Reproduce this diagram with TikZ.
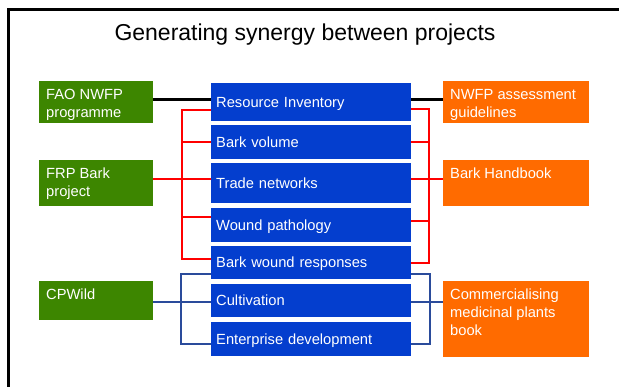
\documentclass[tikz,border=0pt]{standalone}
\usepackage{fontspec}
\setmainfont{Liberation Sans}
\definecolor{topicblue}{RGB}{4,62,206}
\definecolor{projgreen}{RGB}{61,134,0}
\definecolor{outorange}{RGB}{255,107,0}
\definecolor{linkred}{RGB}{255,0,0}
\definecolor{linknavy}{RGB}{42,75,155}
\newcommand{\boxtext}[1]{\parbox[t]{140pt}{\raggedright #1}}
\begin{document}
\begin{tikzpicture}[x=1pt,y=-1pt,
  boxfont/.style={font=\fontsize{14.7}{18}\selectfont},
  topic/.style={boxfont, fill=topicblue, text=white, anchor=north west,
    minimum width=200pt, text width=190pt, inner xsep=5pt, inner ysep=0pt,
    text height=10.5pt, text depth=0pt, align=left},
  project/.style={fill=projgreen, anchor=north west, minimum width=114pt, inner sep=0pt},
  output/.style={fill=outorange, anchor=north west, minimum width=146pt, inner sep=0pt},
  boxlabel/.style={boxfont, text=white, anchor=base west, inner sep=0pt},
  blackline/.style={draw=black, line width=2.6pt},
  redline/.style={draw=linkred, line width=2pt, line join=miter},
  navyline/.style={draw=linknavy, line width=2pt, line join=miter}]
\useasboundingbox (0,0) rectangle (619,387);
\fill[white] (0,0) rectangle (619,387);

% outer frame (open to the right and bottom)
\draw[line width=2.6pt] (8.5,387) |- (619,9.5);

% title
\node[font=\fontsize{23}{27}\selectfont, anchor=center] (title) at (305,35) {Generating synergy between projects};

% central column of research topics
\node[topic, minimum height=38pt] (ri)   at (211,83)  {Resource Inventory};
\node[topic, minimum height=34pt] (bv)   at (211,125) {Bark volume};
\node[topic, minimum height=40pt] (tn)   at (211,163) {Trade networks};
\node[topic, minimum height=34pt] (wp)   at (211,208) {Wound pathology};
\node[topic, minimum height=33pt] (bwr)  at (211,246) {Bark wound responses};
\node[topic, minimum height=33pt] (cult) at (211,284) {Cultivation};
\node[topic, minimum height=34pt] (ent)  at (211,322) {Enterprise development};

% projects on the left
\node[project, minimum height=42pt] (fao) at (39,81)  {};
\node[project, minimum height=46pt] (frp) at (39,160) {};
\node[project, minimum height=39pt] (cpw) at (39,281) {};
\node[boxlabel] (faoT) at ([xshift=7pt,yshift=-18.5pt]fao.north west) {\boxtext{FAO NWFP\\programme}};
\node[boxlabel] (frpT) at ([xshift=7pt,yshift=-18.5pt]frp.north west) {\boxtext{FRP Bark\\project}};
\node[boxlabel] (cpwT) at ([xshift=7pt,yshift=-18.5pt]cpw.north west) {\boxtext{CPWild}};

% outputs on the right
\node[output, minimum height=42pt] (nwfp) at (443,81)  {};
\node[output, minimum height=46pt] (bh)   at (443,160) {};
\node[output, minimum height=76pt] (comm) at (443,281) {};
\node[boxlabel] (nwfpT) at ([xshift=7pt,yshift=-18.5pt]nwfp.north west) {\boxtext{NWFP assessment\\guidelines}};
\node[boxlabel] (bhT)   at ([xshift=7pt,yshift=-18.5pt]bh.north west) {\boxtext{Bark Handbook}};
\node[boxlabel] (commT) at ([xshift=7pt,yshift=-19pt]comm.north west) {\boxtext{Commercialising\\medicinal plants\\book}};

% bus positions
\coordinate (redL)  at (182,0);
\coordinate (redR)  at (429,0);
\coordinate (navyL) at (181,0);
\coordinate (navyR) at (430,0);

% FAO programme <-> resource inventory <-> guidelines
\draw[blackline] ([yshift=2.5pt]fao.east) -- ([yshift=2.5pt]fao.east -| ri.west);
\draw[blackline] ([yshift=2.5pt]ri.east) -- ([yshift=2.5pt]ri.east -| nwfp.west);

% FRP Bark project links (left)
\draw[redline] ([yshift=-8pt]ri.west) -- ([yshift=-8pt]ri.west -| redL)
  -- ([yshift=3.5pt]bwr.west -| redL) -- ([yshift=3.5pt]bwr.west);
\draw[redline] (bv.west) -- (bv.west -| redL);
\draw[redline] ([yshift=4pt]frp.east) -- ([yshift=4pt]frp.east -| tn.west);
\draw[redline] ([yshift=8pt]wp.west) -- ([yshift=8pt]wp.west -| redL);

% Bark Handbook links (right)
\draw[redline] ([yshift=-7pt]ri.east) -- ([yshift=-7pt]ri.east -| redR)
  -- ([yshift=-0.5pt]bwr.east -| redR) -- ([yshift=-0.5pt]bwr.east);
\draw[redline] (bv.east) -- (bv.east -| redR);
\draw[redline] ([yshift=4pt]tn.east) -- ([yshift=4pt]tn.east -| bh.west);
\draw[redline] ([yshift=4pt]wp.east) -- ([yshift=4pt]wp.east -| redR);

% CPWild links (left)
\draw[navyline] ([yshift=-11.5pt]bwr.west) -- ([yshift=-11.5pt]bwr.west -| navyL)
  -- ([yshift=-5pt]ent.west -| navyL) -- ([yshift=-5pt]ent.west);
\draw[navyline] ([yshift=-1.5pt]cpw.east) -- ([yshift=-1.5pt]cpw.east -| cult.west);

% medicinal plants book links (right)
\draw[navyline] ([yshift=-11.5pt]bwr.east) -- ([yshift=-11.5pt]bwr.east -| navyR)
  -- ([yshift=-5pt]ent.east -| navyR) -- ([yshift=-5pt]ent.east);
\draw[navyline] ([yshift=-1.5pt]cult.east) -- ([yshift=-1.5pt]cult.east -| comm.west);
\end{tikzpicture}
\end{document}
